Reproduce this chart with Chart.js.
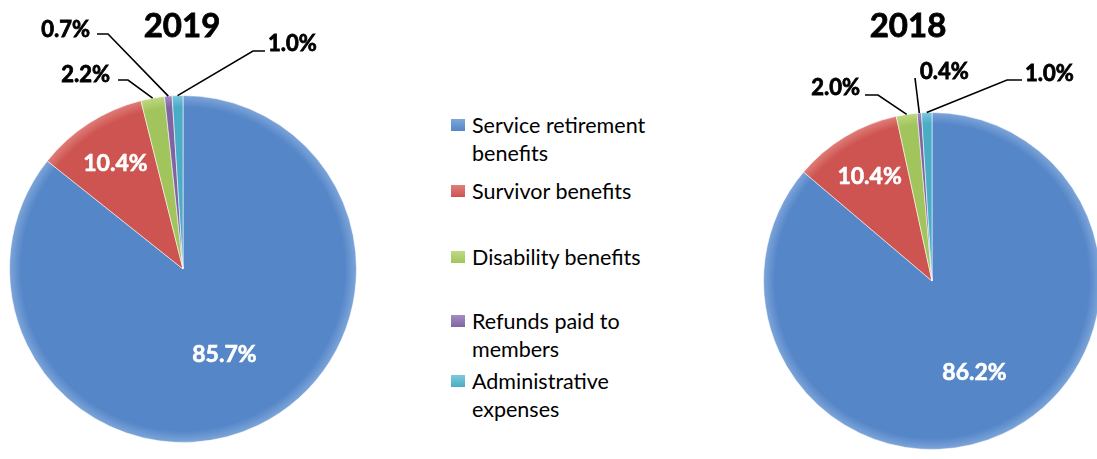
<!DOCTYPE html>
<html>
<head>
<meta charset="utf-8">
<script src="https://cdn.jsdelivr.net/npm/chart.js@4.4.1/dist/chart.umd.min.js"></script>
<style>
    body { margin: 0; width: 1097px; height: 459px; overflow: hidden; background: #fff; position: relative; font-family: Lato, sans-serif; }
    #caja2019 { position: absolute; left: 0; top: 0; width: 366px; height: 459px; }
    #caja2018 { position: absolute; left: 740px; top: 0; width: 380px; height: 459px; }
    .leyenda-item { position: absolute; left: 451px; width: 200px; font-size: 21.5px; line-height: 28px; color: #000; padding-left: 21px; }
    .leyenda-item i { position: absolute; left: 0; top: 8px; width: 14px; height: 12px; }
</style>
</head>
<body>
<div id="caja2019"><canvas id="grafico2019"></canvas></div>
<div id="caja2018"><canvas id="grafico2018"></canvas></div>
<div id="leyenda"></div>

<script>
// Datos
const categorias = ['Service retirement benefits', 'Survivor benefits', 'Disability benefits', 'Refunds paid to members', 'Administrative expenses'];
const valores2019 = [85.7, 10.4, 2.2, 0.7, 1.0];
const valores2018 = [86.2, 10.4, 2.0, 0.4, 1.0];

// Estilos
const colores = ['#5586c8', '#cd5450', '#a2c45c', '#8064a2', '#4bacc6'];
const coloresBorde = ['#7fa6da', '#e07f7b', '#c0da85', '#a58cc2', '#7fc8dc'];
const topLeyenda = [111, 177, 243, 307, 367];

document.addEventListener('DOMContentLoaded', () => {
    construirLeyenda();

    // 2019: centro (183, 269), radio 174
    crearTorta('grafico2019', valores2019, {
        padding: { left: 9, right: 9, top: 95, bottom: 16 },
        titulo: { texto: '2019', dx: -1, dy: -243 },
        etiquetas: [
            { dentro: 0.55 },
            { dentro: 0.72 },
            { codo: [-55, -189], fin: -65, texto: [-73, -194], alinear: 'right' },
            { codo: [-75, -235], fin: -86, texto: [-93, -239], alinear: 'right' },
            { codo: [70, -218], fin: 82, texto: [85, -225], alinear: 'left' }
        ]
    });

    // 2018: centro (932, 281), radio 169
    crearTorta('grafico2018', valores2018, {
        padding: { left: 23, right: 19, top: 112, bottom: 9 },
        titulo: { texto: '2018', dx: -24, dy: -255 },
        etiquetas: [
            { dentro: 0.6 },
            { dentro: 0.72 },
            { codo: [-54, -186], fin: -67, texto: [-72, -193], alinear: 'right' },
            { codo: [-17, -203], fin: -17, texto: [-12, -209], alinear: 'left' },
            { codo: [75, -201], fin: 90, texto: [93, -207], alinear: 'left' }
        ]
    });
});

function construirLeyenda() {
    const cont = document.getElementById('leyenda');
    categorias.forEach((nombre, i) => {
        const div = document.createElement('div');
        div.className = 'leyenda-item';
        div.style.top = topLeyenda[i] + 'px';
        div.innerHTML = '<i style="background:linear-gradient(' + coloresBorde[i] + ',' + colores[i] + ')"></i>' + nombre;
        cont.appendChild(div);
    });
}

// Plugin: porcentajes, líneas guía y título
const etiquetasPlugin = {
    id: 'etiquetas',
    afterDatasetsDraw(chart, args, opts) {
        const ctx = chart.ctx;
        const meta = chart.getDatasetMeta(0);
        const datos = chart.data.datasets[0].data;
        let cx = 0, cy = 0;
        ctx.save();
        ctx.textBaseline = 'middle';
        meta.data.forEach((arc, i) => {
            const p = arc.getProps(['x', 'y', 'startAngle', 'endAngle', 'outerRadius'], true);
            cx = p.x; cy = p.y;
            const medio = (p.startAngle + p.endAngle) / 2;
            const texto = datos[i].toFixed(1) + '%';
            const conf = opts.etiquetas[i];
            if (conf.dentro) {
                const r = p.outerRadius * conf.dentro;
                ctx.fillStyle = '#fff';
                ctx.strokeStyle = '#fff';
                ctx.lineWidth = 0.6;
                ctx.font = 'bold 23px Lato';
                ctx.textAlign = 'center';
                const tx = p.x + Math.cos(medio) * r, ty = p.y + Math.sin(medio) * r;
                ctx.fillText(texto, tx, ty);
                ctx.strokeText(texto, tx, ty);
            } else {
                const x0 = p.x + Math.cos(medio) * p.outerRadius;
                const y0 = p.y + Math.sin(medio) * p.outerRadius;
                ctx.strokeStyle = '#000';
                ctx.lineWidth = 1.6;
                ctx.beginPath();
                ctx.moveTo(x0, y0);
                ctx.lineTo(p.x + conf.codo[0], p.y + conf.codo[1]);
                ctx.lineTo(p.x + conf.fin, p.y + conf.codo[1]);
                ctx.stroke();
                ctx.fillStyle = '#000';
                ctx.lineWidth = 0.8;
                ctx.font = 'bold 22px Lato';
                ctx.textAlign = conf.alinear;
                ctx.fillText(texto, p.x + conf.texto[0], p.y + conf.texto[1]);
                ctx.strokeText(texto, p.x + conf.texto[0], p.y + conf.texto[1]);
            }
        });
        ctx.fillStyle = '#000';
        ctx.strokeStyle = '#000';
        ctx.lineWidth = 0.8;
        ctx.font = 'bold 33px Lato';
        ctx.textAlign = 'center';
        ctx.fillText(opts.titulo.texto, cx + opts.titulo.dx, cy + opts.titulo.dy);
        ctx.strokeText(opts.titulo.texto, cx + opts.titulo.dx, cy + opts.titulo.dy);
        ctx.restore();
    }
};

function crearTorta(id, valores, cfg) {
    const canvas = document.getElementById(id);
    if (!canvas) {
        console.error('Canvas ' + id + ' no encontrado');
        return;
    }

    new Chart(canvas, {
        type: 'pie',
        data: {
            labels: categorias,
            datasets: [{
                data: valores,
                // Degradado radial para imitar el borde biselado
                backgroundColor: (c) => {
                    const area = c.chart.chartArea;
                    if (!area) return colores[c.dataIndex];
                    const x = (area.left + area.right) / 2;
                    const y = (area.top + area.bottom) / 2;
                    const r = Math.min(area.right - area.left, area.bottom - area.top) / 2;
                    const g = c.chart.ctx.createRadialGradient(x, y, 0, x, y, r);
                    g.addColorStop(0, colores[c.dataIndex]);
                    g.addColorStop(0.93, colores[c.dataIndex]);
                    g.addColorStop(1, coloresBorde[c.dataIndex]);
                    return g;
                },
                borderColor: 'rgba(255,255,255,0.55)',
                borderWidth: 1
            }]
        },
        options: {
            responsive: true,
            maintainAspectRatio: false,
            animation: false,
            layout: { padding: cfg.padding },
            plugins: {
                legend: { display: false },
                tooltip: { enabled: false },
                etiquetas: { etiquetas: cfg.etiquetas, titulo: cfg.titulo }
            }
        },
        plugins: [etiquetasPlugin]
    });
}
</script>
</body>
</html>
